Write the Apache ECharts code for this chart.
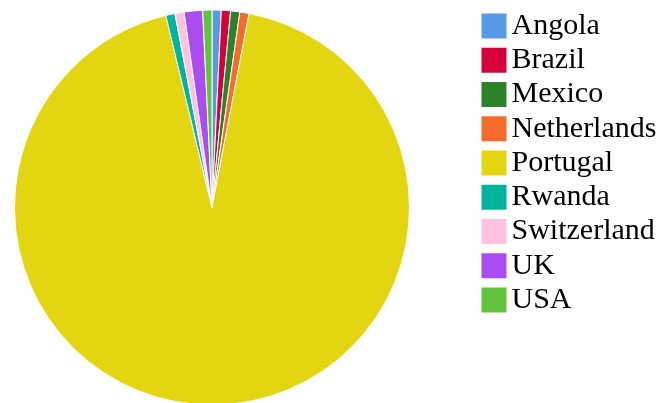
<!DOCTYPE html>
<html>
<head>
<meta charset="utf-8">
<script src="https://cdn.jsdelivr.net/npm/echarts@6/dist/echarts.min.js"></script>
<style>html,body{margin:0;padding:0;background:#fff}#c{width:667px;height:403px}</style>
</head>
<body>
<div id="c"></div>
<script>
const categories = ["Angola","Brazil","Mexico","Netherlands","Portugal","Rwanda","Switzerland","UK","USA"];
const values = [1,1,1,1,124,1,1,2,1];
const colors = ["#5799E5","#D7003A","#2B8229","#F56B2C","#E3D611","#00B59C","#FFC2E0","#AA4CF2","#62C43A"];

const chart = echarts.init(document.getElementById('c'), null, {renderer:'canvas'});
chart.setOption({
  animation: false,
  color: colors,
  legend: {
    orient: 'vertical',
    left: 481.5,
    top: 11,
    padding: 0,
    itemWidth: 25,
    itemHeight: 25,
    itemGap: 4.25,
    icon: 'rect',
    itemStyle: { borderWidth: 0 },
    data: categories,
    textStyle: { fontFamily: 'Liberation Serif', fontSize: 30, color: '#000' },
    selectedMode: false
  },
  series: [{
    type: 'pie',
    center: [212, 207.5],
    radius: [0, 197.5],
    startAngle: 90,
    clockwise: true,
    label: { show: false },
    labelLine: { show: false },
    itemStyle: { borderColor: '#fff', borderWidth: 1 },
    emphasis: { disabled: true },
    data: categories.map((n,i)=>({name:n, value: values[i]}))
  }]
});
</script>
</body>
</html>
